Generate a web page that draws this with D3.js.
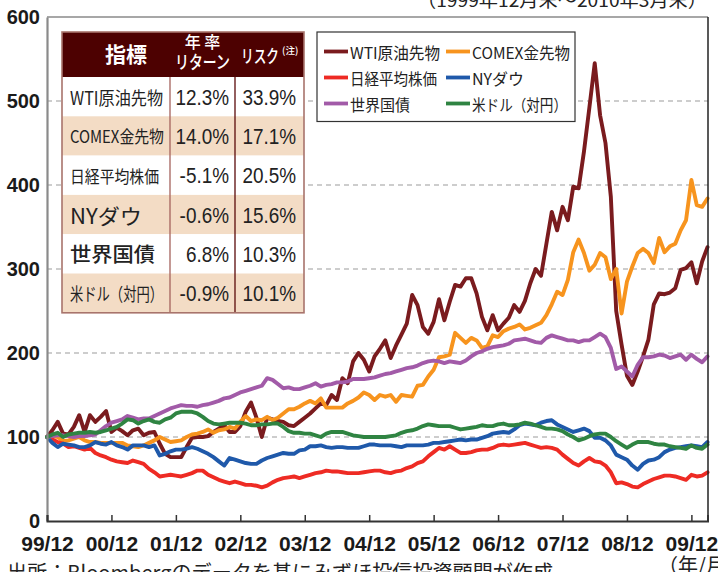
<!DOCTYPE html>
<html><head><meta charset="utf-8">
<script src="https://cdn.jsdelivr.net/npm/d3@7"></script>
<style>
html,body{margin:0;padding:0;background:#fff;}
svg{display:block;}
</style></head><body>
<svg id="c" width="718" height="572"></svg>
<script>
// ---------- data ----------
const tickLabels = ["99/12","00/12","01/12","02/12","03/12","04/12","05/12","06/12","07/12","08/12","09/12"];
const yTicks = [0,100,200,300,400,500,600];
const seriesNames = ["WTI原油先物","COMEX金先物","日経平均株価","NYダウ","世界国債","米ドル（対円）"];
const seriesColors = ["#7a1b1e","#f7941e","#ee2b24","#1f59aa","#a25ba8","#2f8442"];

// monthly index values, 1999/12 = 100, through 2010/3
const wti = [100,108,118,104,103,112,126,106,126,118,
 124,131,106,111,107,102,108,110,102,105,
 106,92,80,76,76,76,88,99,100,100,
 101,106,110,114,106,106,113,130,141,123,
 100,123,121,119,118,114,113,118,123,128,
 134,140,138,150,144,170,164,190,200,192,
 178,196,205,215,194,209,222,235,269,257,
 231,223,237,264,239,261,281,279,289,289,
 271,243,227,245,227,235,242,257,249,262,
 283,300,292,330,368,346,374,358,398,396,
 440,492,545,483,450,386,250,210,173,162,
 178,196,216,258,271,270,272,277,299,301,
 308,283,309,326];
const gold = [100,101,100,95,96,98,100,96,94,94,
 93,93,93,93,93,90,89,88,90,93,
 96,100,97,94,95,96,100,103,104,106,
 109,105,108,109,112,110,118,125,119,121,
 120,124,120,123,128,133,133,136,140,143,
 140,146,135,135,135,135,140,143,147,153,
 150,144,150,148,150,142,150,149,148,161,
 162,172,180,195,196,198,224,218,212,218,
 215,206,208,221,219,226,229,231,234,228,
 230,233,236,245,258,273,269,287,320,335,
 319,298,305,319,314,288,300,247,285,303,
 319,324,319,307,337,320,327,330,346,358,
 406,376,374,384];
const nikkei = [100,97,94,92,88,89,87,85,87,81,
 78,76,73,71,70,69,72,70,68,62,
 58,53,54,55,54,53,55,57,60,60,
 55,52,49,47,45,47,45,43,43,42,
 40,42,46,49,51,52,53,51,53,55,
 57,58,60,59,59,58,57,57,57,58,
 59,60,60,58,57,59,60,63,65,69,
 71,77,82,87,85,89,85,81,81,82,
 84,85,85,87,90,91,90,91,92,93,
 91,89,87,88,87,85,79,74,69,66,
 71,75,71,70,66,58,45,46,44,41,
 40,44,47,50,52,54,54,53,51,49,
 55,53,54,58];
const dow = [100,93,88,92,91,90,88,88,90,94,
 92,91,94,90,88,85,90,90,90,88,
 90,78,80,83,85,85,86,88,86,83,
 80,76,71,66,75,73,71,69,68,68,
 72,75,77,79,81,80,80,84,85,89,
 89,90,88,87,88,88,87,87,87,89,
 91,91,90,90,90,89,88,90,90,90,
 90,91,93,93,94,95,96,97,96,97,
 97,99,101,104,105,106,105,109,114,116,
 115,114,117,119,120,115,112,109,106,108,
 110,107,99,99,96,90,79,76,73,66,
 61,68,72,73,76,82,85,87,88,89,
 90,89,88,94];
const bond = [100,101,102,102,101,100,101,101,102,103,
 108,113,117,119,121,125,123,121,122,122,
 125,128,131,134,136,138,137,137,136,138,
 139,141,143,146,147,150,153,155,157,159,
 161,170,168,163,158,159,157,157,159,161,
 164,160,162,163,165,165,166,169,169,169,
 170,171,173,175,176,178,180,182,183,185,
 188,190,191,190,188,190,189,188,191,196,
 200,202,205,207,208,209,211,215,216,217,
 215,213,212,218,221,219,217,215,215,213,
 215,215,219,223,219,206,181,184,178,172,
 186,195,195,196,198,197,194,196,198,192,
 198,193,189,196];
const usdjpy = [100,103,105,100,103,104,105,105,106,105,
 106,108,110,112,116,121,120,116,119,121,
 118,117,121,123,128,130,130,130,128,124,
 119,116,115,116,117,117,117,116,114,114,
 115,115,116,116,112,107,105,105,104,104,
 102,100,104,106,106,106,104,102,101,100,
 100,100,100,100,101,102,105,107,108,110,
 113,115,114,113,113,113,111,109,110,111,
 112,114,113,113,115,116,114,114,115,117,
 116,114,112,110,110,109,107,103,100,96,
 98,101,103,104,104,100,95,91,87,91,
 94,94,94,92,91,91,89,88,87,86,
 90,87,86,91];

const tableHead = ["指標","年 率","リターン","リスク","(注)"];
const tableNames = ["WTI原油先物","COMEX金先物","日経平均株価","NYダウ","世界国債","米ドル（対円）"];
const tableReturns = ["12.3%","14.0%","-5.1%","-0.6%","6.8%","-0.9%"];
const tableRisks = ["33.9%","17.1%","20.5%","15.6%","10.3%","10.1%"];
const titleText = "（1999年12月末～2010年3月末）";
const sourceText = "出所：Bloombergのデータを基にみずほ投信投資顧問が作成";
const unitText = "（年/月）";

// ---------- layout ----------
const JP = "'Noto Sans CJK JP','Noto Sans',sans-serif";
const NUM = "'Liberation Sans',Arial,Helvetica,sans-serif";
const P = {l:47, r:708, t:17, b:521};
const svg = d3.select("#c");
const series = [wti, gold, nikkei, dow, bond, usdjpy];
const nMonths = wti.length;

const x = d3.scaleLinear().domain([0, nMonths - 1]).range([P.l, 707.5]);
const y = d3.scaleLinear().domain([0, 600]).range([P.b, P.t]);

// gridlines
svg.append("g").selectAll("line")
  .data(yTicks.filter(v => v > 0 && v < 600)).join("line")
  .attr("x1", P.l).attr("x2", P.r)
  .attr("y1", d => y(d)).attr("y2", d => y(d))
  .attr("stroke", "#9c9c9c").attr("stroke-width", 1.1)
  .attr("stroke-dasharray", "5,4");

// series lines
const line = d3.line().x((d, i) => x(i)).y(d => y(d)).curve(d3.curveLinear);
svg.append("g").selectAll("path").data(series).join("path")
  .attr("d", line)
  .attr("fill", "none")
  .attr("stroke", (d, i) => seriesColors[i])
  .attr("stroke-width", 3.9)
  .attr("stroke-linejoin", "round")
  .attr("stroke-linecap", "round");

// frame: top + right
svg.append("line").attr("x1", P.l).attr("x2", P.r).attr("y1", P.t).attr("y2", P.t)
  .attr("stroke", "#8a8a8a").attr("stroke-width", 1.5);
svg.append("line").attr("x1", P.r).attr("x2", P.r).attr("y1", P.t).attr("y2", P.b)
  .attr("stroke", "#222").attr("stroke-width", 1.5);

// y axis
const gy = svg.append("g").attr("transform", `translate(${P.l},0)`)
  .call(d3.axisLeft(y).tickValues(yTicks).tickSize(0).tickPadding(7).tickFormat(d3.format("d")));
gy.select(".domain").attr("stroke", "#8a8a8a").attr("stroke-width", 2.2);
gy.selectAll("text").attr("font-family", NUM).attr("font-weight", "bold")
  .attr("font-size", 20).attr("fill", "#1a1a1a");

// x axis
const tickMonths = tickLabels.map((_, i) => i * 12);
const gx = svg.append("g").attr("transform", `translate(0,${P.b})`)
  .call(d3.axisBottom(x).tickValues(tickMonths).tickFormat((d, i) => tickLabels[i])
    .tickSize(-6).tickPadding(15));
gx.select(".domain").attr("stroke", "#333").attr("stroke-width", 2);
gx.selectAll(".tick line").attr("stroke", "#333").attr("stroke-width", 1.5);
gx.selectAll("text").attr("font-family", NUM).attr("font-weight", "bold")
  .attr("font-size", 21).attr("fill", "#1a1a1a");

// ---------- table ----------
const T = {x0:62, x1:170, x2:235, x3:304, top:32, head:77, rowH:39.3};
const tg = svg.append("g");
tg.append("rect").attr("x", T.x0).attr("y", T.top).attr("width", T.x3 - T.x0).attr("height", T.head - T.top)
  .attr("fill", "#4d0101");
tg.selectAll("rect.row").data(tableNames).join("rect").attr("class", "row")
  .attr("x", T.x0).attr("width", T.x3 - T.x0)
  .attr("y", (d, i) => T.head + i * T.rowH).attr("height", T.rowH)
  .attr("fill", (d, i) => i % 2 ? "#f3dcc5" : "#ffffff");
const tBottom = T.head + tableNames.length * T.rowH;
tg.append("line").attr("x1", T.x1).attr("x2", T.x1).attr("y1", T.head).attr("y2", tBottom)
  .attr("stroke", "#a4625c").attr("stroke-width", 1.3);
tg.append("line").attr("x1", T.x2).attr("x2", T.x2).attr("y1", T.head).attr("y2", tBottom)
  .attr("stroke", "#5a0a0a").attr("stroke-width", 1.3);
tg.append("rect").attr("x", T.x0).attr("y", T.top).attr("width", T.x3 - T.x0).attr("height", tBottom - T.top)
  .attr("fill", "none").attr("stroke", "#a8746c").attr("stroke-width", 1.6);

// header text
tg.append("text").attr("x", 126).attr("y", 53).attr("text-anchor", "middle")
  .attr("dominant-baseline", "central").attr("font-family", JP).attr("font-weight", "bold")
  .attr("font-size", 21).attr("fill", "#fff").text(tableHead[0]);
tg.append("text").attr("x", 202.5).attr("y", 41).attr("text-anchor", "middle")
  .attr("dominant-baseline", "central").attr("font-family", JP).attr("font-weight", 500)
  .attr("font-size", 16).attr("fill", "#fff").text(tableHead[1]);
tg.append("text").attr("x", 202.5).attr("y", 61).attr("text-anchor", "middle")
  .attr("dominant-baseline", "central").attr("font-family", JP).attr("font-weight", 500)
  .attr("font-size", 18).attr("textLength", 55).attr("lengthAdjust", "spacingAndGlyphs")
  .attr("fill", "#fff").text(tableHead[2]);
tg.append("text").attr("x", 241).attr("y", 55)
  .attr("dominant-baseline", "central").attr("font-family", JP).attr("font-weight", 500)
  .attr("font-size", 18).attr("textLength", 38).attr("lengthAdjust", "spacingAndGlyphs")
  .attr("fill", "#fff").text(tableHead[3]);
tg.append("text").attr("x", 282).attr("y", 50)
  .attr("dominant-baseline", "central").attr("font-family", JP).attr("font-weight", 500)
  .attr("font-size", 9.5).attr("fill", "#fff").text(tableHead[4]);

// row text
const nameSize = [18, 17, 17, 21, 20, 18];
const nameWidth = [93, 94, 89, 72, 85, 93];
const nameWeight = [400, 400, 400, 400, 500, 400];
tg.selectAll("text.name").data(tableNames).join("text").attr("class", "name")
  .attr("x", 70).attr("y", (d, i) => T.head + (i + 0.5) * T.rowH)
  .attr("dominant-baseline", "central").attr("font-family", JP)
  .attr("font-size", (d, i) => nameSize[i]).attr("font-weight", (d, i) => nameWeight[i])
  .attr("textLength", (d, i) => nameWidth[i]).attr("lengthAdjust", "spacingAndGlyphs")
  .attr("fill", "#222").text(d => d);
function numCol(vals, xr) {
  tg.selectAll(null).data(vals).join("g")
    .attr("transform", (d, i) => `translate(${xr},${T.head + (i + 0.5) * T.rowH + 8}) scale(0.86,1)`)
    .append("text").attr("text-anchor", "end")
    .attr("font-family", NUM).attr("font-size", 22).attr("fill", "#222").text(d => d);
}
numCol(tableReturns, 229);
numCol(tableRisks, 296);

// ---------- legend ----------
const L = {x:317, y:32, w:258, h:89.5, col:[324, 446], row:[51.5, 77.5, 103.5]};
const lg = svg.append("g");
lg.append("rect").attr("x", L.x).attr("y", L.y).attr("width", L.w).attr("height", L.h)
  .attr("fill", "#fff").attr("stroke", "#333").attr("stroke-width", 1.2);
const legW = [90, 98, 87, 52, 60, 95];
const items = lg.selectAll("g.it").data(seriesNames).join("g").attr("class", "it")
  .attr("transform", (d, i) => `translate(${L.col[i % 2]},${L.row[Math.floor(i / 2)]})`);
items.append("line").attr("x1", 0).attr("x2", 24).attr("y1", 0).attr("y2", 0)
  .attr("stroke", (d, i) => seriesColors[i]).attr("stroke-width", 3.8);
items.append("text").attr("x", 26).attr("y", 0).attr("dominant-baseline", "central")
  .attr("font-family", JP).attr("font-size", 16)
  .attr("textLength", (d, i) => legW[i]).attr("lengthAdjust", "spacingAndGlyphs")
  .attr("fill", "#222").text(d => d);

// ---------- annotation texts ----------
svg.append("text").attr("x", 417).attr("y", 7).attr("font-family", JP).attr("font-size", 18)
  .attr("textLength", 290).attr("lengthAdjust", "spacingAndGlyphs")
  .attr("fill", "#222").text(titleText);
svg.append("text").attr("x", 7).attr("y", 580).attr("font-family", JP).attr("font-size", 20)
  .attr("textLength", 546).attr("lengthAdjust", "spacingAndGlyphs")
  .attr("fill", "#222").text(sourceText);
svg.append("text").attr("x", 658).attr("y", 573).attr("font-family", JP).attr("font-size", 20)
  .attr("fill", "#222").text(unitText);
</script>
</body></html>
